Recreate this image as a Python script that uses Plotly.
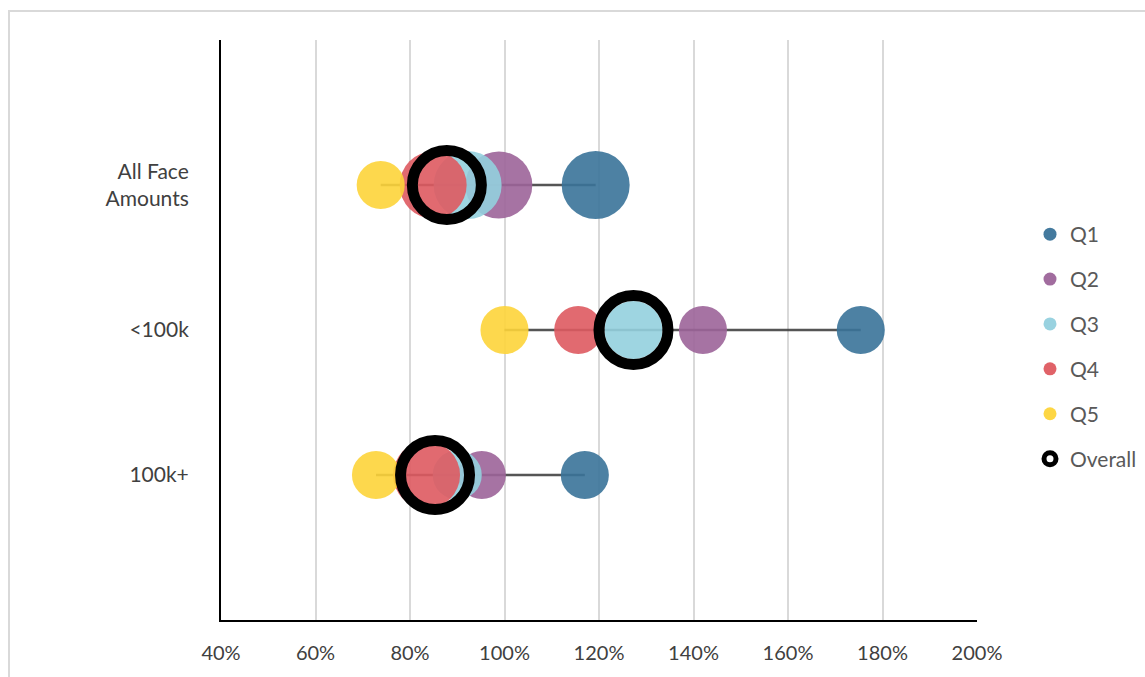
import plotly.graph_objects as go

# ---- data ----
categories = ["All Face<br>Amounts", "<100k", "100k+"]
cat_pos = [1, 2, 3]
q1 = [1.193, 1.754, 1.170]
q2 = [0.988, 1.420, 0.952]
q3 = [0.922, 1.273, 0.900]
q4 = [0.849, 1.156, 0.835]
q5 = [0.738, 1.000, 0.728]
overall = [0.878, 1.273, 0.853]
# relative bubble weights (area)
q1_w = [1.00, 0.50, 0.50]
q2_w = [0.97, 0.50, 0.50]
q3_w = [1.00, 0.73, 0.52]
q4_w = [0.97, 0.50, 0.97]
q5_w = [0.50, 0.50, 0.50]
x_ticks = [0.4, 0.6, 0.8, 1.0, 1.2, 1.4, 1.6, 1.8, 2.0]

series = [
    ("Q1", q1, q1_w, "#3A7399"),
    ("Q2", q2, q2_w, "#9C6499"),
    ("Q3", q3, q3_w, "#93D0DE"),
    ("Q4", q4, q4_w, "#DE5A60"),
    ("Q5", q5, q5_w, "#FDD43A"),
]

FONT = "Lato"
max_d = 68.0
sizeref = 2.0 * 1.0 / (max_d ** 2)

fig = go.Figure()

# range lines (min to max across quintiles)
lx, ly = [], []
for i, y in enumerate(cat_pos):
    vals = [s[1][i] for s in series]
    lx += [min(vals), max(vals), None]
    ly += [y, y, None]
fig.add_trace(go.Scatter(x=lx, y=ly, mode="lines",
                         line=dict(color="rgba(55,55,55,0.85)", width=2.5),
                         showlegend=False, hoverinfo="skip"))

for name, vals, w, col in series:
    fig.add_trace(go.Scatter(
        x=vals, y=cat_pos, mode="markers", name=name, showlegend=False,
        marker=dict(size=w, sizemode="area", sizeref=sizeref, color=col,
                    opacity=0.9, line=dict(width=0))))

fig.add_trace(go.Scatter(
    x=overall, y=cat_pos, mode="markers", name="Overall", showlegend=False,
    marker=dict(size=69, color="rgba(0,0,0,0)", line=dict(color="black", width=11))))

# legend entries
for i, (name, vals, w, col) in enumerate(series):
    fig.add_trace(go.Scatter(x=[None], y=[None], mode="markers", name=name,
                             legendgroup=name,
                             marker=dict(size=13, color=col, opacity=0.95)))
fig.add_trace(go.Scatter(x=[None], y=[None], mode="markers", name="Overall",
                         legendgroup="Overall",
                         marker=dict(size=12, color="white",
                                     line=dict(color="black", width=5))))

fig.update_layout(
    width=1145, height=677,
    margin=dict(l=221, r=168, t=40, b=57, autoexpand=False),
    paper_bgcolor="white", plot_bgcolor="white",
    font=dict(family=FONT, size=20, color="#404040"),
    showlegend=True,
    legend=dict(x=(1030 - 221) / 756, y=0.70, xanchor="left", yanchor="top",
                font=dict(size=21, color="#595959", family=FONT),
                tracegroupgap=14.6, itemwidth=30, bgcolor="rgba(0,0,0,0)"),
    xaxis=dict(range=[0.4, 2.0], tickvals=x_ticks, tickformat=".0%",
               showgrid=True, gridcolor="#D9D9D9", gridwidth=2,
               showline=True, linecolor="black", linewidth=2,
               zeroline=False, ticks="", ticklabelstandoff=14,
               tickfont=dict(size=20, color="#404040")),
    yaxis=dict(range=[4, 0], tickvals=cat_pos, ticktext=categories,
               showgrid=False, showline=True, linecolor="black", linewidth=2,
               zeroline=False, ticks="", ticklabelstandoff=26,
               tickfont=dict(size=21, color="#404040")),
    shapes=[dict(type="rect", xref="paper", yref="paper",
                 x0=(9 - 221) / 756, x1=(1160 - 221) / 756,
                 y0=(620 - 700) / 580, y1=(620 - 11) / 580,
                 line=dict(color="#D9D9D9", width=2), fillcolor="rgba(0,0,0,0)",
                 layer="below")],
)

fig.write_html("out.html", config={"displayModeBar": False},
               post_script="document.body.style.margin='0';document.body.style.overflow='hidden';")
